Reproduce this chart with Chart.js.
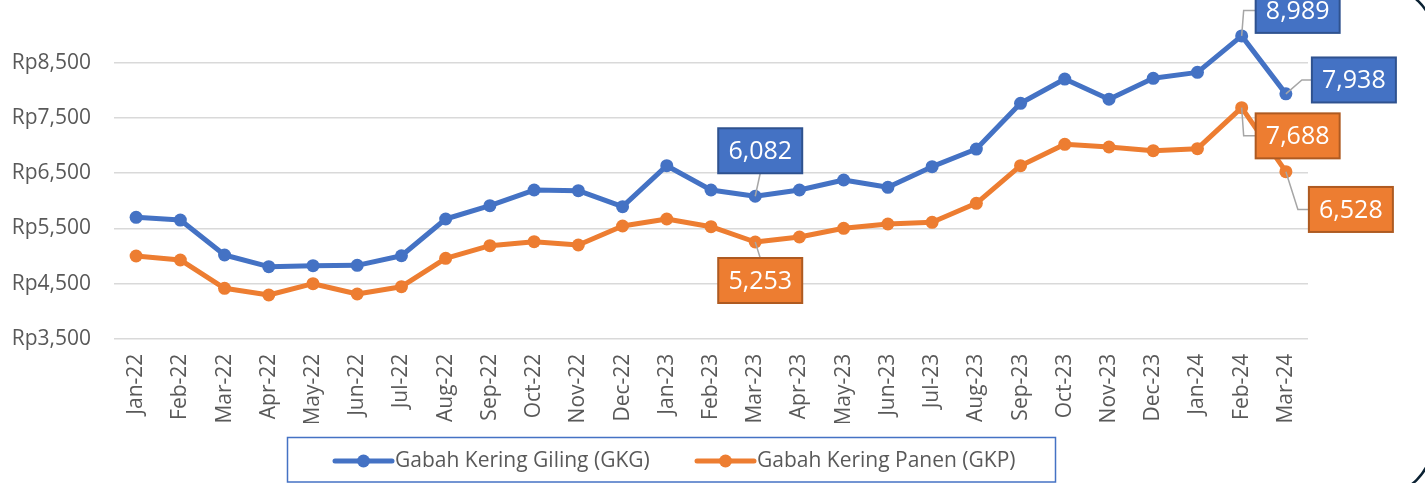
<!DOCTYPE html>
<html>
<head>
<meta charset="utf-8">
<script src="https://cdn.jsdelivr.net/npm/chart.js@4.4.1/dist/chart.umd.min.js"></script>
<style>
  html, body { margin: 0; padding: 0; background: #ffffff; }
  #wrap { position: relative; width: 1425px; height: 483px; }
</style>
</head>
<body>
<div id="wrap"><canvas id="c" width="1425" height="483"></canvas></div>
<script>
// ---- data ----
const months = ["Jan-22","Feb-22","Mar-22","Apr-22","May-22","Jun-22","Jul-22","Aug-22","Sep-22","Oct-22","Nov-22","Dec-22",
                "Jan-23","Feb-23","Mar-23","Apr-23","May-23","Jun-23","Jul-23","Aug-23","Sep-23","Oct-23","Nov-23","Dec-23",
                "Jan-24","Feb-24","Mar-24"];
const gkgLabel = "Gabah Kering Giling (GKG)";
const gkpLabel = "Gabah Kering Panen (GKP)";
const gkgValues = [5700, 5651, 5017, 4805, 4823, 4830, 5004, 5670, 5911, 6195, 6183, 5893,
                   6636, 6195, 6082, 6195, 6377, 6244, 6618, 6938, 7767, 8207, 7840, 8220,
                   8328, 8989, 7938];
const gkpValues = [4999, 4927, 4413, 4292, 4497, 4310, 4443, 4957, 5186, 5258, 5198, 5543,
                   5670, 5530, 5253, 5343, 5501, 5579, 5610, 5954, 6636, 7024, 6975, 6908,
                   6945, 7688, 6528];
const yTickValues = [3500, 4500, 5500, 6500, 7500, 8500];

// ---- styles ----
const BLUE = "#4472C4", ORANGE = "#ED7D31";
const BLUE_DARK = "#2F528F", ORANGE_DARK = "#AE5A21";
const TXT = "#595959";
const FONT = "'Open Sans', 'Noto Sans', sans-serif";

// callouts: which point gets a boxed label, and where the box sits (pixel offsets)
const callouts = [
  { ds: 0, idx: 14, dx: -37, dy: -68, leader: "up" },
  { ds: 1, idx: 14, dx: -37, dy: 16,  leader: "down" },
  { ds: 0, idx: 25, dx: 14,  dy: -48, leader: "elbow", ox: 2 },
  { ds: 0, idx: 26, dx: 26,  dy: -36.4, leader: "elbow", ox: 16 },
  { ds: 1, idx: 25, dx: 14,  dy: 5.7, leader: "elbow", ox: 2 },
  { ds: 1, idx: 26, dx: 23,  dy: 15.3, leader: "elbow", ox: 12 }
];
const BOX_W = 84, BOX_H = 45;

const calloutPlugin = {
  id: "callouts",
  afterDatasetsDraw(chart) {
    const ctx = chart.ctx;
    ctx.save();
    callouts.forEach(c => {
      const pt = chart.getDatasetMeta(c.ds).data[c.idx];
      const val = chart.data.datasets[c.ds].data[c.idx];
      const bx = pt.x + c.dx, by = pt.y + c.dy;
      const cy = by + BOX_H / 2;
      // leader line
      ctx.strokeStyle = "#A6A6A6";
      ctx.lineWidth = 1.5;
      ctx.beginPath();
      if (c.leader === "up") {
        ctx.moveTo(pt.x, pt.y);
        ctx.lineTo(bx + BOX_W / 2, by + BOX_H);
      } else if (c.leader === "down") {
        ctx.moveTo(pt.x, pt.y);
        ctx.lineTo(bx + BOX_W / 2, by);
      } else {
        ctx.moveTo(pt.x, pt.y);
        ctx.lineTo(pt.x + c.ox, cy);
        ctx.lineTo(bx, cy);
      }
      ctx.stroke();
      // box
      const fill = c.ds === 0 ? BLUE : ORANGE;
      const edge = c.ds === 0 ? BLUE_DARK : ORANGE_DARK;
      ctx.fillStyle = fill;
      ctx.fillRect(bx, by, BOX_W, BOX_H);
      ctx.strokeStyle = edge;
      ctx.lineWidth = 2;
      ctx.strokeRect(bx, by, BOX_W, BOX_H);
      // text
      ctx.fillStyle = "#FFFFFF";
      ctx.font = "25px " + FONT;
      ctx.textAlign = "center";
      ctx.textBaseline = "middle";
      ctx.fillText(val.toLocaleString("en-US"), bx + BOX_W / 2, cy + 1);
    });
    ctx.restore();
  }
};

const legendPlugin = {
  id: "customLegend",
  afterDraw(chart) {
    const ctx = chart.ctx;
    ctx.save();
    // legend frame
    ctx.strokeStyle = BLUE;
    ctx.lineWidth = 1.5;
    ctx.strokeRect(287.5, 437.5, 768, 44.5);
    const items = [
      { label: chart.data.datasets[0].label, color: chart.data.datasets[0].borderColor, x0: 335, x1: 392, tx: 395 },
      { label: chart.data.datasets[1].label, color: chart.data.datasets[1].borderColor, x0: 697, x1: 754, tx: 757 }
    ];
    const y = 461;
    items.forEach(it => {
      ctx.strokeStyle = it.color;
      ctx.lineWidth = 5;
      ctx.lineCap = "round";
      ctx.beginPath();
      ctx.moveTo(it.x0, y);
      ctx.lineTo(it.x1, y);
      ctx.stroke();
      ctx.fillStyle = it.color;
      ctx.beginPath();
      ctx.arc((it.x0 + it.x1) / 2, y, 6.5, 0, Math.PI * 2);
      ctx.fill();
      ctx.fillStyle = TXT;
      ctx.font = "21px " + FONT;
      ctx.textAlign = "left";
      ctx.textBaseline = "middle";
      ctx.fillText(it.label, it.tx, y);
    });
    // rounded frame corners at the right edge
    ctx.strokeStyle = "#0B2233";
    ctx.lineWidth = 2.5;
    ctx.lineCap = "butt";
    ctx.beginPath();
    ctx.arc(1380, 40, 54.5, -Math.PI / 2, 0);
    ctx.stroke();
    ctx.beginPath();
    ctx.arc(1380, 443, 52, 0, Math.PI / 2);
    ctx.stroke();
    ctx.restore();
  }
};

new Chart(document.getElementById("c"), {
  type: "line",
  data: {
    labels: months,
    datasets: [
      { label: gkgLabel, data: gkgValues, borderColor: BLUE, backgroundColor: BLUE,
        pointBackgroundColor: BLUE, pointBorderColor: BLUE },
      { label: gkpLabel, data: gkpValues, borderColor: ORANGE, backgroundColor: ORANGE,
        pointBackgroundColor: ORANGE, pointBorderColor: ORANGE }
    ]
  },
  options: {
    responsive: false,
    animation: false,
    devicePixelRatio: 1,
    layout: { padding: { left: 12, right: 117, top: 7.7, bottom: 60 } },
    elements: {
      line: { borderWidth: 5, tension: 0, borderCapStyle: "round", borderJoinStyle: "round" },
      point: { radius: 6.5, borderWidth: 0, hoverRadius: 6.5 }
    },
    plugins: {
      legend: { display: false },
      tooltip: { enabled: false }
    },
    scales: {
      x: {
        type: "category",
        offset: true,
        grid: { display: false, drawTicks: false },
        border: { display: false },
        ticks: {
          color: TXT, font: { family: FONT, size: 21 },
          minRotation: 90, maxRotation: 90, autoSkip: false, padding: 15
        },
        afterFit(s) { s.height = 483 - 60 - 338.7; s.paddingLeft = 0; s.paddingRight = 0; }
      },
      y: {
        min: 3500, max: 9500,
        grid: { color: "#D9D9D9", lineWidth: 1.5, drawTicks: false },
        border: { display: false },
        afterBuildTicks(s) { s.ticks = yTickValues.map(v => ({ value: v })); },
        ticks: {
          color: TXT, font: { family: FONT, size: 21 }, padding: 23,
          callback: v => "Rp" + Number(v).toLocaleString("en-US")
        },
        afterFit(s) { s.width = 102; s.paddingTop = 0; s.paddingBottom = 0; }
      }
    }
  },
  plugins: [calloutPlugin, legendPlugin]
});
</script>
</body>
</html>
